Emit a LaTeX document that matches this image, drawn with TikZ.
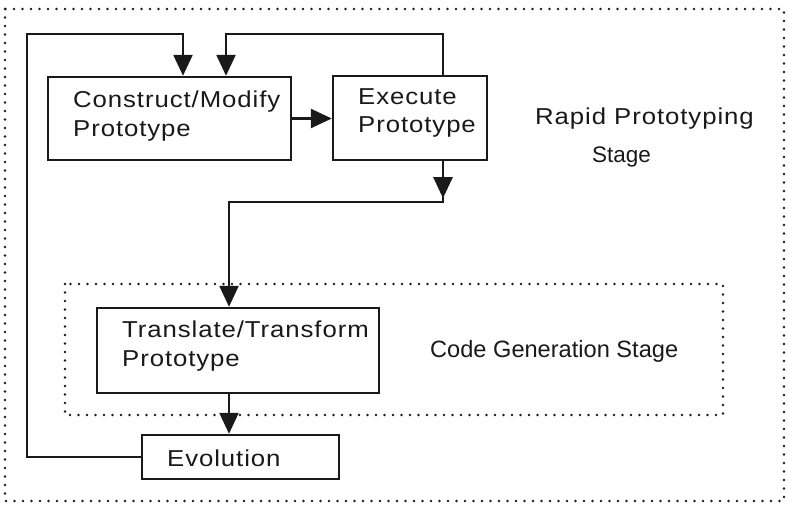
\documentclass[tikz,border=0pt]{standalone}
\usepackage{fontspec}
\setmainfont{Liberation Sans}
\newfontfamily\spacedfont[FakeStretch=1.12, LetterSpace=4]{Liberation Sans}
\usetikzlibrary{arrows.meta,calc}

\tikzset{
  ink/.style={line width=2.4pt, draw=black!90},
  box/.style={ink, rectangle, inner sep=0pt},
  arr/.style={ink, -{Triangle[width=19pt,length=21pt]}},
  dots/.style={line width=2.9pt, draw=black!90, line cap=round,
               dash pattern=on 0pt off 8.5pt},
  lbl/.style={anchor=base west, inner sep=0pt, text=black!90,
              font=\spacedfont\fontsize{23}{27}\selectfont},
  plain/.style={anchor=base west, inner sep=0pt, text=black!90,
                font=\fontsize{22.5}{27}\selectfont}
}

\begin{document}
\begin{tikzpicture}[x=1pt, y=-1pt]
  \useasboundingbox (0,0) rectangle (790,507);

  % stage frames
  \draw[dots] (5,9) rectangle (784,501);
  \draw[dots] (65,284) rectangle (723,415);

  % process boxes
  \node[box, minimum width=243pt, minimum height=83pt] (cm) at (169.5,118.5) {};
  \node[box, minimum width=154pt, minimum height=84pt] (ex) at (410,118) {};
  \node[box, minimum width=282pt, minimum height=85pt] (tt) at (238,350.5) {};
  \node[box, minimum width=197pt, minimum height=44pt] (ev) at (240.5,457) {};

  % box labels
  \node[lbl] (cm1) at (73,107) {Construct/Modify};
  \node[lbl] (cm2) at (73,136) {Prototype};
  \node[lbl] (ex1) at (358,104) {Execute};
  \node[lbl] (ex2) at (358,132) {Prototype};
  \node[lbl] (tt1) at (122,337) {Translate/Transform};
  \node[lbl] (tt2) at (122,366) {Prototype};
  \node[lbl] (ev1) at (167,466) {Evolution};

  % stage labels
  \node[lbl] (rp) at (535,124) {Rapid Prototyping};
  \node[plain] (rps) at (592,162) {Stage};
  \node[plain, font=\fontsize{23.6}{27}\selectfont] (cg) at (430,357) {Code Generation Stage};

  % routing points
  \coordinate (fbl) at (27,34);
  \coordinate (fbm) at (226,34);
  \coordinate (in1) at (183,0);
  \coordinate (in2) at (226,0);
  \coordinate (exo) at (443,0);
  \coordinate (jn)  at (229,202);

  % connectors
  \draw[arr] (cm.east) -- (cm.east -| ex.west);
  \draw[arr] (ev.west) -| (fbl) -| (cm.north -| in1);
  \draw[arr] (ex.north -| exo) |- (fbm) -- (cm.north -| in2);
  \draw[arr] (ex.south -| exo) -- ($(ex.south -| exo)+(0,37)$);
  \draw[arr] (ex.south -| exo) |- (jn) -- (tt.north -| jn);
  \draw[arr] (tt.south -| jn) -- (ev.north -| jn);
\end{tikzpicture}
\end{document}
